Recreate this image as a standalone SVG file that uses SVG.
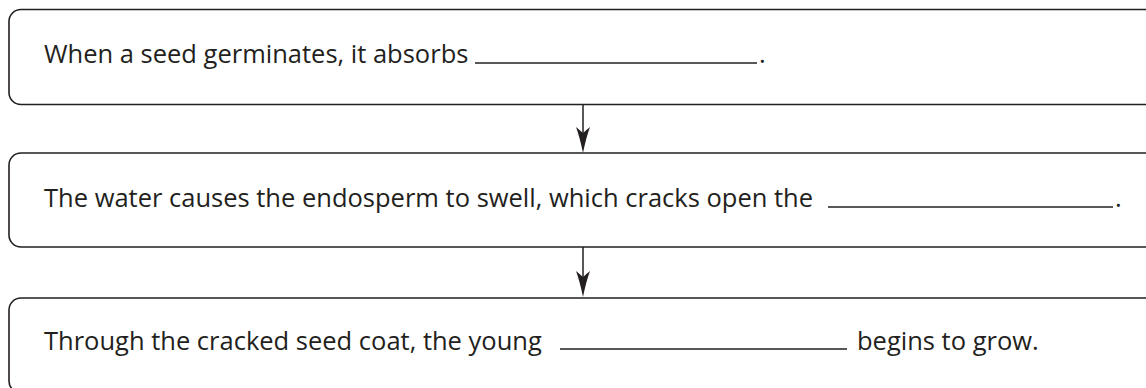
<svg xmlns="http://www.w3.org/2000/svg" width="1146" height="388" viewBox="0 0 1146 388">
<style>
.box{fill:#fff;stroke:#231f20;stroke-width:1.6}
.t{font-family:"Open Sans","Noto Sans",sans-serif;font-size:25.5px;fill:#231f20}
.blank{stroke:#231f20;stroke-width:1.5}
.conn{stroke:#231f20;stroke-width:1.5;fill:none}
.head{fill:#231f20}
</style>
<g id="connectors">
<line class="conn" x1="583" y1="104" x2="583" y2="140"/>
<path class="head" d="M583,153 Q580,138 576,127 L583,133 L590,127 Q586,138 583,153 Z"/>
<line class="conn" x1="583" y1="247" x2="583" y2="284"/>
<path class="head" d="M583,297 Q580,282 576,271 L583,277 L590,271 Q586,282 583,297 Z"/>
</g>
<g id="node1">
<rect class="box" x="9" y="9.5" width="1160" height="95" rx="12"/>
<text class="t" x="44" y="63">When a seed germinates, it absorbs</text>
<line class="blank" x1="475" y1="63" x2="757" y2="63"/>
<text class="t" x="759" y="63">.</text>
</g>
<g id="node2">
<rect class="box" x="9" y="153" width="1160" height="94" rx="12"/>
<text class="t" x="44" y="207">The water causes the endosperm to swell, which cracks open the</text>
<line class="blank" x1="828" y1="207" x2="1113" y2="207"/>
<text class="t" x="1115" y="207">.</text>
</g>
<g id="node3">
<rect class="box" x="9" y="298" width="1160" height="95" rx="12"/>
<text class="t" x="44" y="350">Through the cracked seed coat, the young</text>
<line class="blank" x1="560" y1="349" x2="847" y2="349"/>
<text class="t" x="857" y="350">begins to grow.</text>
</g>
</svg>
